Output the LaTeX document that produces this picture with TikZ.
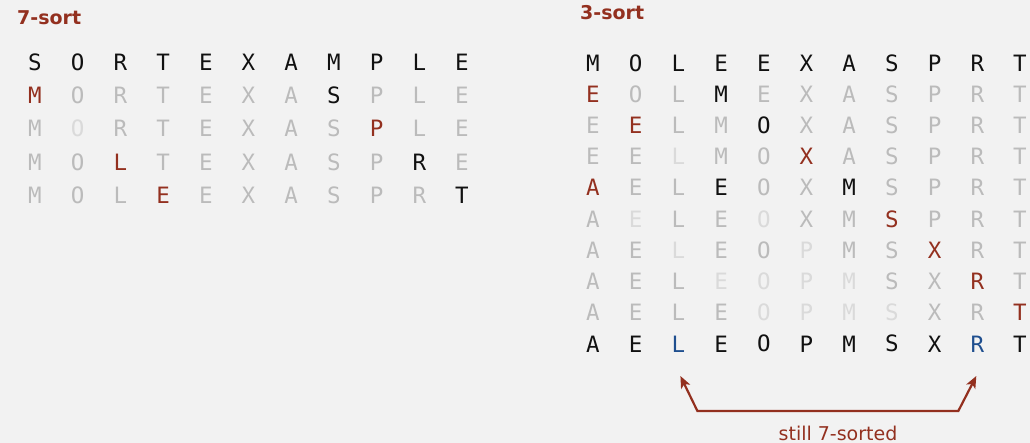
\documentclass[tikz,border=0pt]{standalone}
\usepackage{fontspec}
\setmainfont{DejaVu Sans}
\newfontfamily\gridfont{DejaVu Sans Mono}
\usetikzlibrary{arrows.meta}
\definecolor{bgc}{HTML}{F2F2F2}
\definecolor{redc}{HTML}{93301F}
\definecolor{grayc}{HTML}{BBBBBB}
\definecolor{lightc}{HTML}{DADADA}
\definecolor{bluec}{HTML}{1F4F8F}
\definecolor{blackc}{HTML}{111111}
\tikzset{
  letter/.style={inner sep=0pt, font=\gridfont\fontsize{22.5}{24}\selectfont, anchor=center},
  ck/.style={letter, text=blackc},
  cg/.style={letter, text=grayc},
  cl/.style={letter, text=lightc},
  cr/.style={letter, text=redc},
  cb/.style={letter, text=bluec},
  titlestyle/.style={inner sep=0pt, anchor=base west, text=redc, font=\bfseries\fontsize{19}{22}\selectfont},
  labelstyle/.style={inner sep=0pt, anchor=base, text=redc, font=\fontsize{19}{22}\selectfont},
  bracket/.style={draw=redc, line width=2.2pt, line join=miter, {Stealth[length=12pt,width=10pt,inset=3pt]}-{Stealth[length=12pt,width=10pt,inset=3pt]}}
}
\begin{document}
\begin{tikzpicture}[x=1pt,y=-1pt]
\fill[bgc] (0,0) rectangle (1030,443);
\useasboundingbox (0,0) rectangle (1030,443);
% titles
\node[titlestyle] (t7) at (17,25) {7-sort};
\node[titlestyle] (t3) at (580,20) {3-sort};
% ---------- 7-sort ----------
\def\ax{35}\def\adx{42.7}
\foreach \ch/\st [count=\c from 0] in {S/ck,O/ck,R/ck,T/ck,E/ck,X/ck,A/ck,M/ck,P/ck,L/ck,E/ck}
  \node[\st] (s-0-\c) at (\ax+\c*\adx,62) {\ch};
\foreach \ch/\st [count=\c from 0] in {M/cr,O/cg,R/cg,T/cg,E/cg,X/cg,A/cg,S/ck,P/cg,L/cg,E/cg}
  \node[\st] (s-1-\c) at (\ax+\c*\adx,95.3) {\ch};
\foreach \ch/\st [count=\c from 0] in {M/cg,O/cl,R/cg,T/cg,E/cg,X/cg,A/cg,S/cg,P/cr,L/cg,E/cg}
  \node[\st] (s-2-\c) at (\ax+\c*\adx,128.6) {\ch};
\foreach \ch/\st [count=\c from 0] in {M/cg,O/cg,L/cr,T/cg,E/cg,X/cg,A/cg,S/cg,P/cg,R/ck,E/cg}
  \node[\st] (s-3-\c) at (\ax+\c*\adx,161.9) {\ch};
\foreach \ch/\st [count=\c from 0] in {M/cg,O/cg,L/cg,E/cr,E/cg,X/cg,A/cg,S/cg,P/cg,R/cg,T/ck}
  \node[\st] (s-4-\c) at (\ax+\c*\adx,195.2) {\ch};
% ---------- 3-sort ----------
\def\bx{593}\def\bdx{42.7}\def\bdy{31.2}
\foreach \ch/\st [count=\c from 0] in {M/ck,O/ck,L/ck,E/ck,E/ck,X/ck,A/ck,S/ck,P/ck,R/ck,T/ck}
  \node[\st] (h-0-\c) at (\bx+\c*\bdx,63+0*\bdy) {\ch};
\foreach \ch/\st [count=\c from 0] in {E/cr,O/cg,L/cg,M/ck,E/cg,X/cg,A/cg,S/cg,P/cg,R/cg,T/cg}
  \node[\st] (h-1-\c) at (\bx+\c*\bdx,63+1*\bdy) {\ch};
\foreach \ch/\st [count=\c from 0] in {E/cg,E/cr,L/cg,M/cg,O/ck,X/cg,A/cg,S/cg,P/cg,R/cg,T/cg}
  \node[\st] (h-2-\c) at (\bx+\c*\bdx,63+2*\bdy) {\ch};
\foreach \ch/\st [count=\c from 0] in {E/cg,E/cg,L/cl,M/cg,O/cg,X/cr,A/cg,S/cg,P/cg,R/cg,T/cg}
  \node[\st] (h-3-\c) at (\bx+\c*\bdx,63+3*\bdy) {\ch};
\foreach \ch/\st [count=\c from 0] in {A/cr,E/cg,L/cg,E/ck,O/cg,X/cg,M/ck,S/cg,P/cg,R/cg,T/cg}
  \node[\st] (h-4-\c) at (\bx+\c*\bdx,63+4*\bdy) {\ch};
\foreach \ch/\st [count=\c from 0] in {A/cg,E/cl,L/cg,E/cg,O/cl,X/cg,M/cg,S/cr,P/cg,R/cg,T/cg}
  \node[\st] (h-5-\c) at (\bx+\c*\bdx,63+5*\bdy) {\ch};
\foreach \ch/\st [count=\c from 0] in {A/cg,E/cg,L/cl,E/cg,O/cg,P/cl,M/cg,S/cg,X/cr,R/cg,T/cg}
  \node[\st] (h-6-\c) at (\bx+\c*\bdx,63+6*\bdy) {\ch};
\foreach \ch/\st [count=\c from 0] in {A/cg,E/cg,L/cg,E/cl,O/cl,P/cl,M/cl,S/cg,X/cg,R/cr,T/cg}
  \node[\st] (h-7-\c) at (\bx+\c*\bdx,63+7*\bdy) {\ch};
\foreach \ch/\st [count=\c from 0] in {A/cg,E/cg,L/cg,E/cg,O/cl,P/cl,M/cl,S/cl,X/cg,R/cg,T/cr}
  \node[\st] (h-8-\c) at (\bx+\c*\bdx,63+8*\bdy) {\ch};
\foreach \ch/\st [count=\c from 0] in {A/ck,E/ck,L/cb,E/ck,O/ck,P/ck,M/ck,S/ck,X/ck,R/cb,T/ck}
  \node[\st] (h-9-\c) at (\bx+\c*\bdx,63+9*\bdy) {\ch};
% ---------- bracket ----------
\coordinate (lt) at ([xshift=2pt]h-9-2.center |- 0,376);
\coordinate (lb) at ([xshift=19pt]h-9-2.center |- 0,411);
\coordinate (rb) at ([xshift=-19pt]h-9-9.center |- 0,411);
\coordinate (rt) at ([xshift=-1pt]h-9-9.center |- 0,376);
\draw[bracket] (lt) -- (lb) -- (rb) -- (rt);
\node[labelstyle] (lab) at (838,440) {still 7-sorted};
\end{tikzpicture}
\end{document}
